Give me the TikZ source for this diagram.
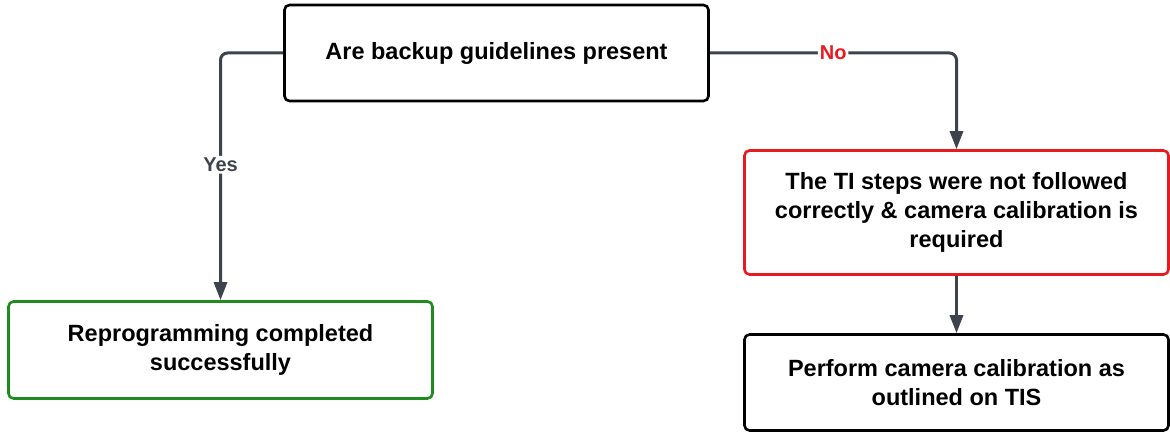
\documentclass[tikz,border=0pt]{standalone}
\usepackage{fontspec}
\setmainfont{Liberation Sans}
\usetikzlibrary{arrows.meta}
\definecolor{linegray}{HTML}{3D434D}
\definecolor{nored}{HTML}{E8191F}
\definecolor{okgreen}{HTML}{1E8C1E}
\tikzset{
  box/.style={draw, rounded corners=5pt, line width=2.6pt, fill=white,
    minimum width=424pt, minimum height=96pt, align=center,
    font=\fontsize{23.5}{29}\selectfont\bfseries},
  flow/.style={draw=linegray, line width=3pt, rounded corners=7pt,
    -{Triangle[length=18pt,width=13pt]}},
  edgelabel/.style={fill=white, inner sep=2pt, font=\fontsize{20}{22}\selectfont\bfseries}
}
\begin{document}
\begin{tikzpicture}[x=1pt,y=-1pt]
      \useasboundingbox (0,0) rectangle (1170,433);
      \draw
        (496.5,53) node[box] (q){Are backup guidelines present}
        (956.5,212.5) node[box, draw=nored, minimum height=124pt] (ti){The TI steps were not followed\\correctly \& camera calibration is\\required}
        (220.5,350) node[box, draw=okgreen, minimum height=97pt] (done){Reprogramming completed\\successfully}
        (956.5,382.5) node[box] (cal){Perform camera calibration as\\outlined on TIS};
      \begin{scope}[flow]
        \draw (q.west) -| node[pos=0.726, edgelabel, text=linegray] (yes){Yes} (done.north);
        \draw (q.east) -| node[pos=0.25, edgelabel, text=nored] (no){No} (ti.north);
        \draw (ti.south) to (cal.north);
      \end{scope}
    \end{tikzpicture}
\end{document}
